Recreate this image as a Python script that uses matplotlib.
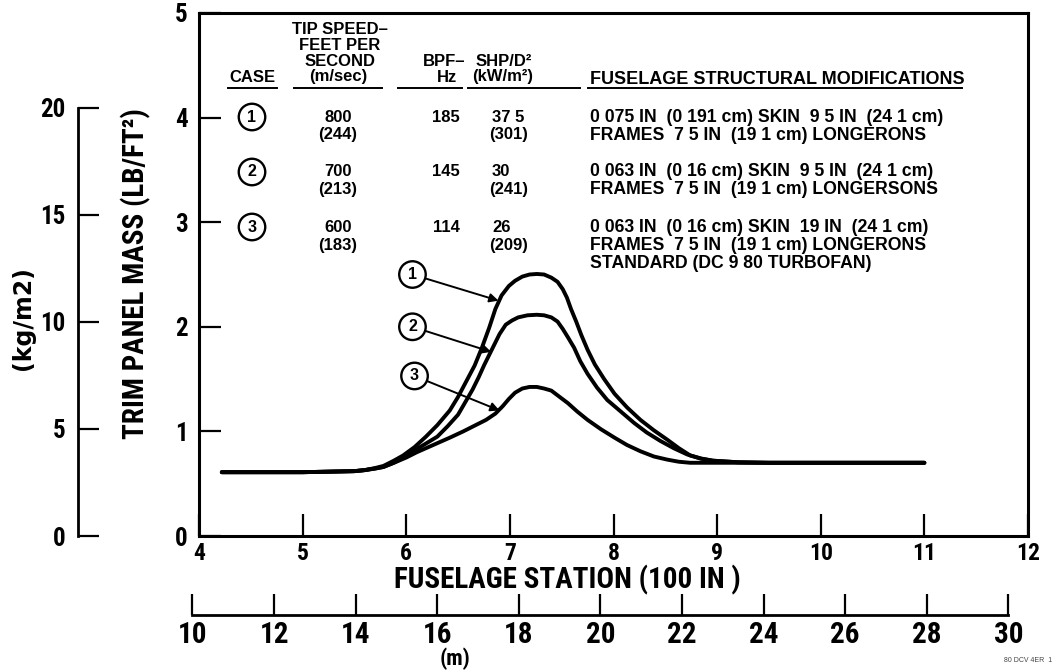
import matplotlib
matplotlib.use("Agg")
import matplotlib.pyplot as plt

# ---------------------------------------------------------------- data
# Fuselage station in hundreds of inches, trim panel mass in lb/ft^2
case1_station = [4.22, 5.0, 5.5, 5.6, 5.7, 5.78, 5.88, 5.97, 6.08, 6.19, 6.30, 6.42,
                 6.50, 6.58, 6.66, 6.73, 6.80, 6.86, 6.92, 6.99, 7.05, 7.12, 7.19,
                 7.26, 7.33, 7.40, 7.46, 7.51, 7.55, 7.59, 7.64, 7.69, 7.75, 7.82,
                 7.91, 8.01, 8.13, 8.26, 8.39, 8.52, 8.63, 8.74, 8.85, 8.96, 9.2,
                 9.5, 10.4, 11.0]
case1_mass = [0.61, 0.61, 0.62, 0.63, 0.65, 0.67, 0.72, 0.77, 0.85, 0.95, 1.06, 1.20,
              1.33, 1.48, 1.63, 1.80, 1.99, 2.17, 2.30, 2.39, 2.44, 2.48, 2.50,
              2.505, 2.50, 2.47, 2.43, 2.36, 2.28, 2.17, 2.05, 1.92, 1.78, 1.64,
              1.50, 1.36, 1.23, 1.11, 1.01, 0.92, 0.84, 0.77, 0.74, 0.72, 0.705,
              0.70, 0.70, 0.70]

case2_station = [4.22, 5.0, 5.5, 5.6, 5.7, 5.78, 5.88, 6.00, 6.10, 6.20, 6.30, 6.40,
                 6.50, 6.57, 6.64, 6.70, 6.75, 6.80, 6.85, 6.90, 6.96, 7.02, 7.08,
                 7.17, 7.26, 7.33, 7.40, 7.46, 7.51, 7.56, 7.62, 7.68, 7.75, 7.84,
                 7.94, 8.07, 8.20, 8.32, 8.45, 8.58, 8.71, 8.84, 8.96, 9.2, 9.5,
                 10.4, 11.0]
case2_mass = [0.61, 0.61, 0.62, 0.63, 0.645, 0.66, 0.70, 0.76, 0.83, 0.89, 0.95, 1.05,
              1.16, 1.28, 1.40, 1.52, 1.63, 1.73, 1.83, 1.93, 2.02, 2.06, 2.09,
              2.11, 2.115, 2.11, 2.09, 2.05, 1.98, 1.90, 1.80, 1.67, 1.55, 1.42,
              1.30, 1.19, 1.08, 0.99, 0.91, 0.84, 0.78, 0.74, 0.72, 0.705, 0.70,
              0.70, 0.70]

case3_station = [4.22, 5.0, 5.5, 5.6, 5.7, 5.78, 5.88, 6.00, 6.10, 6.26, 6.42, 6.55,
                 6.67, 6.77, 6.86, 6.93, 6.99, 7.05, 7.12, 7.19, 7.26, 7.33, 7.40,
                 7.48, 7.56, 7.65, 7.75, 7.88, 8.01, 8.13, 8.26, 8.39, 8.52, 8.63,
                 8.74, 9.0, 10.4, 11.0]
case3_mass = [0.61, 0.61, 0.62, 0.63, 0.645, 0.66, 0.70, 0.75, 0.80, 0.87, 0.94, 1.00,
              1.06, 1.11, 1.17, 1.24, 1.31, 1.37, 1.41, 1.425, 1.425, 1.41, 1.39,
              1.33, 1.27, 1.19, 1.11, 1.02, 0.94, 0.87, 0.81, 0.76, 0.73, 0.71,
              0.70, 0.70, 0.70, 0.70]

case_ids = ["1", "2", "3"]
tip_speed_fps = ["800", "700", "600"]
tip_speed_ms = ["(244)", "(213)", "(183)"]
bpf_hz = ["185", "145", "114"]
shp_d2 = ["37 5", "30", "26"]
shp_d2_kw = ["(301)", "(241)", "(209)"]
modifications = [
    ["0 075 IN  (0 191 cm) SKIN  9 5 IN  (24 1 cm)",
     "FRAMES  7 5 IN  (19 1 cm) LONGERONS"],
    ["0 063 IN  (0 16 cm) SKIN  9 5 IN  (24 1 cm)",
     "FRAMES  7 5 IN  (19 1 cm) LONGERSONS"],
    ["0 063 IN  (0 16 cm) SKIN  19 IN  (24 1 cm)",
     "FRAMES  7 5 IN  (19 1 cm) LONGERONS",
     "STANDARD (DC 9 80 TURBOFAN)"],
]

station_ticks = list(range(4, 13))
mass_ticks = list(range(0, 6))
kg_ticks = [0, 5, 10, 15, 20]
metre_ticks = list(range(10, 31, 2))

LB_FT2_TO_KG_M2 = 4.8824
HUNDRED_IN_TO_M = 2.54

# ---------------------------------------------------------------- figure
W, H = 1057, 670
fig = plt.figure(figsize=(W / 100, H / 100), dpi=100)

def fx(px):
    return px / W

def fy(py):
    return 1 - py / H

NARROW = ["Roboto Condensed", "Open Sans Condensed", "DejaVu Sans"]
SANS = ["Liberation Sans", "DejaVu Sans"]
CIRCLE = dict(boxstyle="circle,pad=0.36", fc="white", ec="black", lw=1.7)

def style_labels(labels, size):
    for lab in labels:
        lab.set_fontfamily(NARROW)
        lab.set_fontstretch("condensed")
        lab.set_fontweight("bold")
        lab.set_fontsize(size)

L, R, T, B = 199, 1028, 13, 536
ax = fig.add_axes([fx(L), fy(B), fx(R) - fx(L), fy(T) - fy(B)])
ax.set_xlim(4, 12)
ax.set_ylim(0, 5)
for s in ax.spines.values():
    s.set_linewidth(2.2)
ax.set_xticks(station_ticks)
ax.set_yticks(mass_ticks)
ax.tick_params(direction="in", length=16, width=1.6)
ax.tick_params(axis="x", pad=4)
ax.tick_params(axis="y", pad=8)
style_labels(ax.get_xticklabels(), 17)
style_labels(ax.get_yticklabels(), 18)

curve_style = dict(color="black", lw=2.8, solid_capstyle="round", solid_joinstyle="round")
ax.plot(case1_station, case1_mass, **curve_style)
ax.plot(case2_station, case2_mass, **curve_style)
ax.plot(case3_station, case3_mass, **curve_style)

# circled case numbers pointing at the curves
callouts = [((6.06, 2.50), (6.89, 2.25)),
            ((6.06, 2.00), (6.82, 1.76)),
            ((6.08, 1.53), (6.90, 1.20))]
for cid, (txt_xy, tip_xy) in zip(case_ids, callouts):
    ax.annotate(cid, xy=tip_xy, xytext=txt_xy, ha="center", va="center",
                fontsize=11.5, fontweight="bold", family=SANS, bbox=CIRCLE,
                arrowprops=dict(arrowstyle="-|>", color="black", lw=1.4,
                                mutation_scale=13, shrinkA=0, shrinkB=0))

# metric mass scale on the far left
ax_kg = fig.add_axes([fx(78), fy(B), 0.0005, fy(T) - fy(B)])
ax_kg.set_ylim(0, 5 * LB_FT2_TO_KG_M2)
ax_kg.patch.set_visible(False)
for k in ("top", "right", "bottom"):
    ax_kg.spines[k].set_visible(False)
ax_kg.spines["left"].set_bounds(0, 20)
ax_kg.spines["left"].set_linewidth(2.0)
ax_kg.set_xticks([])
ax_kg.set_yticks(kg_ticks)
ax_kg.tick_params(axis="y", direction="in", length=15, width=1.6, pad=9)
style_labels(ax_kg.get_yticklabels(), 18)

# metric station scale below
ppu = (R - L) / 8.0
m_left_px = 186
m_lo = HUNDRED_IN_TO_M * (4 - (L - m_left_px) / ppu)
m_hi = HUNDRED_IN_TO_M * 12
ax_m = fig.add_axes([fx(m_left_px), fy(615), fx(R) - fx(m_left_px), 0.0005])
ax_m.set_xlim(m_lo, m_hi)
ax_m.patch.set_visible(False)
for k in ("top", "right", "left"):
    ax_m.spines[k].set_visible(False)
ax_m.spines["bottom"].set_bounds(10, 30)
ax_m.spines["bottom"].set_linewidth(2.0)
ax_m.set_yticks([])
ax_m.set_xticks(metre_ticks)
ax_m.tick_params(axis="x", direction="in", length=15, width=1.6, pad=4)
style_labels(ax_m.get_xticklabels(), 21)

# axis titles
fig.text(fx(567), fy(580), "FUSELAGE STATION (100 IN )", ha="center", va="center",
         fontsize=21, fontweight="bold", family=NARROW, fontstretch="condensed")
fig.text(fx(455), fy(659), "(m)", ha="center", va="center",
         fontsize=16, fontweight="bold", family=NARROW, fontstretch="condensed")
fig.text(fx(136), fy(274), "TRIM PANEL MASS (LB/FT²)", ha="center", va="center",
         rotation=90, fontsize=21, fontweight="bold", family=NARROW,
         fontstretch="condensed")
fig.text(fx(23), fy(318), "(kg/m2)", ha="center", va="center",
         rotation=90, fontsize=17, fontweight="bold", family=["DejaVu Sans"])

# drawing reference number
fig.text(fx(1052), fy(660), "80 DCV 4ER  1", ha="right", va="center",
         fontsize=5, color="#444444", family=SANS)

# ---------------------------------------------------------------- case table
tbl = dict(fontsize=12, fontweight="bold", family=SANS, va="center")

def put(px, py, s, ha="center", **kw):
    opts = dict(tbl)
    opts.update(kw)
    fig.text(fx(px), fy(py), s, ha=ha, **opts)

put(252, 77, "CASE")
put(340, 29, "TIP SPEED–")
put(340, 45, "FEET PER")
put(340, 61, "SECOND")
put(338, 77, "(m/sec)")
put(444, 61, "BPF–")
put(447, 77, "Hz")
put(476, 61, "SHP/D²", ha="left")
put(472, 77, "(kW/m²)", ha="left")
put(590, 80, "FUSELAGE STRUCTURAL MODIFICATIONS", ha="left", fontsize=13)

for x0, x1 in [(228, 277), (294, 382), (398, 462), (468, 580), (588, 962)]:
    fig.add_artist(plt.Line2D([fx(x0), fx(x1)], [fy(88), fy(88)],
                              color="black", lw=1.4))

row_y = [117, 172, 227]
for i, y in enumerate(row_y):
    fig.text(fx(252), fy(y), case_ids[i], ha="center", va="center",
             fontsize=11.5, fontweight="bold", family=SANS, bbox=CIRCLE)
    put(338, y, tip_speed_fps[i])
    put(338, y + 18, tip_speed_ms[i])
    put(446, y, bpf_hz[i])
    put(492, y, shp_d2[i], ha="left")
    put(489, y + 18, shp_d2_kw[i], ha="left")
    for j, line in enumerate(modifications[i]):
        put(590, y + 18 * j, line, ha="left", fontsize=12.7)

fig.savefig("out.png", dpi=100)
